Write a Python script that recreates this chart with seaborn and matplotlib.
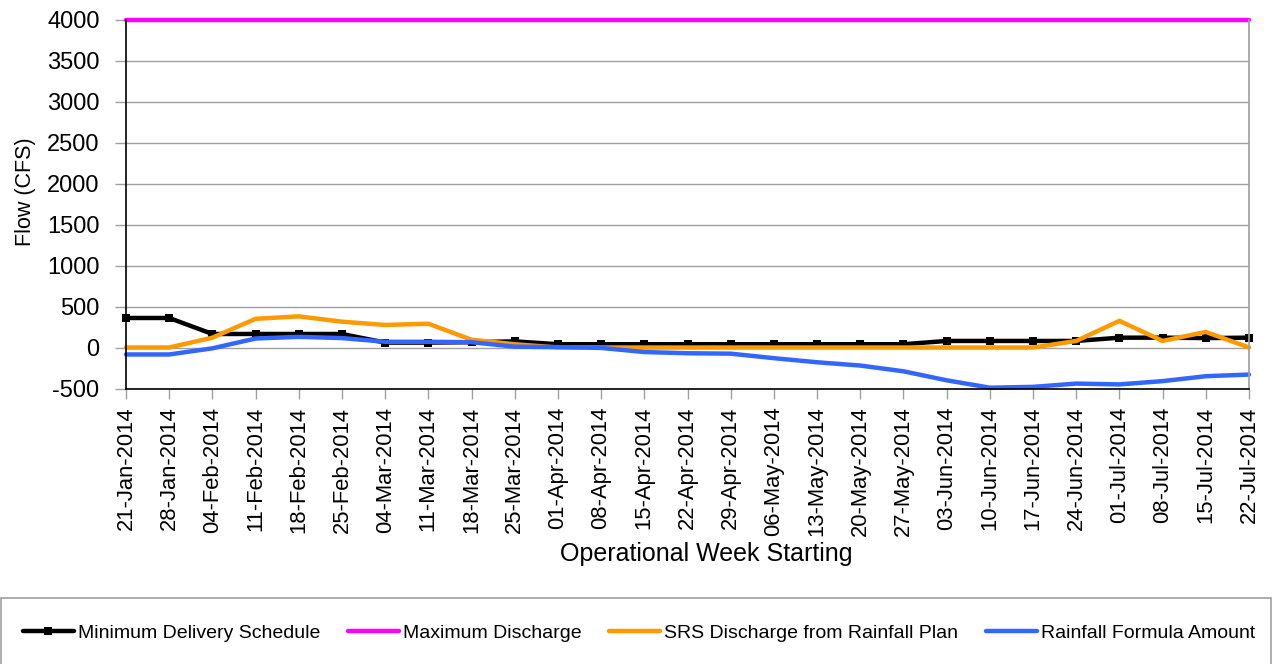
"""
Operational flow schedule, Jan - Jul 2014
"""

import matplotlib
matplotlib.use("Agg")
import matplotlib.pyplot as plt
import pandas as pd
import seaborn as sns
from matplotlib.patches import Rectangle

sns.set_theme(style="white")
plt.rcParams["font.family"] = ["Liberation Sans", "DejaVu Sans"]
plt.rcParams["axes.unicode_minus"] = False
plt.rcParams["text.color"] = "black"
plt.rcParams["axes.labelcolor"] = "black"
plt.rcParams["xtick.labelcolor"] = "black"
plt.rcParams["ytick.labelcolor"] = "black"

# ── data ──────────────────────────────────────────────────────────────────────

weeks = [
    "21-Jan-2014", "28-Jan-2014", "04-Feb-2014", "11-Feb-2014", "18-Feb-2014",
    "25-Feb-2014", "04-Mar-2014", "11-Mar-2014", "18-Mar-2014", "25-Mar-2014",
    "01-Apr-2014", "08-Apr-2014", "15-Apr-2014", "22-Apr-2014", "29-Apr-2014",
    "06-May-2014", "13-May-2014", "20-May-2014", "27-May-2014", "03-Jun-2014",
    "10-Jun-2014", "17-Jun-2014", "24-Jun-2014", "01-Jul-2014", "08-Jul-2014",
    "15-Jul-2014", "22-Jul-2014",
]

min_delivery = [360, 360, 165, 165, 165, 165, 60, 60, 65, 75, 40, 40, 40, 40,
                40, 40, 40, 40, 40, 80, 80, 80, 80, 120, 120, 115, 120]

max_discharge = [4000, 4000, 4000, 4000, 4000, 4000, 4000, 4000, 4000, 4000,
                 4000, 4000, 4000, 4000, 4000, 4000, 4000, 4000, 4000, 4000,
                 4000, 4000, 4000, 4000, 4000, 4000, 4000]

srs_discharge = [0, 0, 120, 350, 380, 315, 275, 290, 95, 40, 0, 0, 0, 0, 0,
                 0, 0, 0, 0, 0, 0, 0, 80, 325, 80, 190, 0]

rainfall_formula = [-85, -85, -10, 110, 130, 115, 70, 70, 65, 10, 5, -5, -55,
                    -70, -75, -130, -180, -220, -290, -400, -490, -480, -440,
                    -450, -410, -350, -330]

y_ticks = [-500, 0, 500, 1000, 1500, 2000, 2500, 3000, 3500, 4000]

series = [
    ("Minimum Delivery Schedule", min_delivery, "#000000", "s"),
    ("Maximum Discharge", max_discharge, "#FF00FF", None),
    ("SRS Discharge from Rainfall Plan", srs_discharge, "#FF9900", None),
    ("Rainfall Formula Amount", rainfall_formula, "#3366FF", None),
]

# ── plot ──────────────────────────────────────────────────────────────────────

fig = plt.figure(figsize=(12.78, 6.64), dpi=100)
ax = fig.add_axes([0.0986, 0.4149, 0.8787, 0.5557])

ax.yaxis.grid(True, color="#A0A0A0", linewidth=1.0)
ax.set_axisbelow(True)

for name, values, color, marker in series:
    df = pd.DataFrame({"week": weeks, "flow": values})
    sns.lineplot(data=df, x="week", y="flow", ax=ax, color=color, linewidth=3.2,
                 marker=marker, markersize=5.5, markeredgewidth=0,
                 label=name, sort=False, clip_on=False)

ax.set_xlim(0, len(weeks) - 1)
ax.set_ylim(-500, 4000)
ax.set_yticks(y_ticks)
ax.set_xticks(range(len(weeks)))
ax.set_xticklabels(weeks, rotation=90)

ax.tick_params(axis="y", labelsize=17, length=8, width=1, color="#A0A0A0",
               direction="out", pad=11, left=True)
ax.tick_params(axis="x", labelsize=15.8, length=7, width=1, color="#A0A0A0",
               direction="out", pad=6, bottom=True)

for side in ["left", "bottom"]:
    ax.spines[side].set_color("black")
    ax.spines[side].set_linewidth(1.2)
ax.spines["right"].set_color("#A0A0A0")
ax.spines["top"].set_visible(False)

ax.set_ylabel("Flow (CFS)", fontsize=15.5)
ax.set_xlabel("Operational Week Starting", fontsize=18)
ax.yaxis.set_label_coords(-0.0805, 0.534)
ax.xaxis.set_label_coords((706 - 126) / 1123, -0.415)

ax.get_legend().remove()
handles, labels = ax.get_legend_handles_labels()
fig.legend(handles, labels, loc="center", bbox_to_anchor=(0.5, 0.0467),
           ncol=4, frameon=False, fontsize=14, handlelength=2.6,
           handletextpad=0.2, columnspacing=1.45)

fig.patches.append(Rectangle((0.001, -0.05), 1270 / 1278, 0.1494,
                             transform=fig.transFigure, fill=False,
                             edgecolor="#A0A0A0", linewidth=1.2))

fig.savefig("out.png", dpi=100)
